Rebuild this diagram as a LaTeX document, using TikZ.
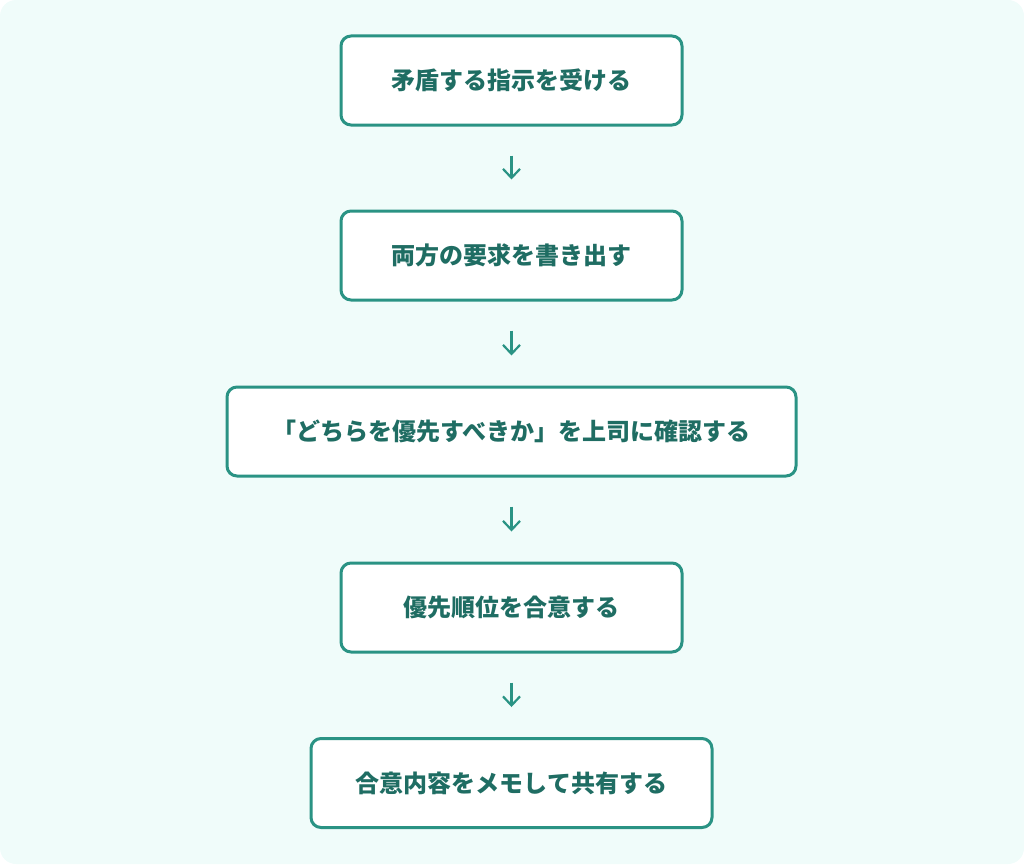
\documentclass[tikz,border=0pt]{standalone}
\usepackage{fontspec}
\setmainfont{Noto Sans CJK JP}
\usetikzlibrary{arrows.meta}
\definecolor{bgc}{HTML}{F0FCFA}
\definecolor{edge}{HTML}{2A9384}
\definecolor{txt}{HTML}{1F6D63}
\tikzset{
  stepbox/.style={draw=edge, line width=3pt, fill=white, rounded corners=10pt,
    minimum height=89pt, text=txt, font=\fontsize{24pt}{28pt}\selectfont\bfseries, inner sep=0pt},
  flow/.style={draw=edge, line width=2.2pt, -{Straight Barb[length=9pt,width=17pt,line width=2.2pt]},
    shorten <=29pt, shorten >=30pt}
}
\begin{document}
\begin{tikzpicture}[x=1pt,y=-1pt]
\useasboundingbox (0,0) rectangle (1024,864);
\fill[bgc, rounded corners=16pt] (0,0) rectangle (1024,864);
\node[stepbox, minimum width=341pt] (b1) at (511.5,80.5) {矛盾する指示を受ける};
\node[stepbox, minimum width=341pt] (b2) at (511.5,255.5) {両方の要求を書き出す};
\node[stepbox, minimum width=569pt] (b3) at (511.5,431.5) {「どちらを優先すべきか」を上司に確認する};
\node[stepbox, minimum width=341pt] (b4) at (511.5,607.5) {優先順位を合意する};
\node[stepbox, minimum width=401pt] (b5) at (511.5,783) {合意内容をメモして共有する};
\draw[flow] (b1) -- (b2);
\draw[flow] (b2) -- (b3);
\draw[flow] (b3) -- (b4);
\draw[flow] (b4) -- (b5);
\end{tikzpicture}
\end{document}
